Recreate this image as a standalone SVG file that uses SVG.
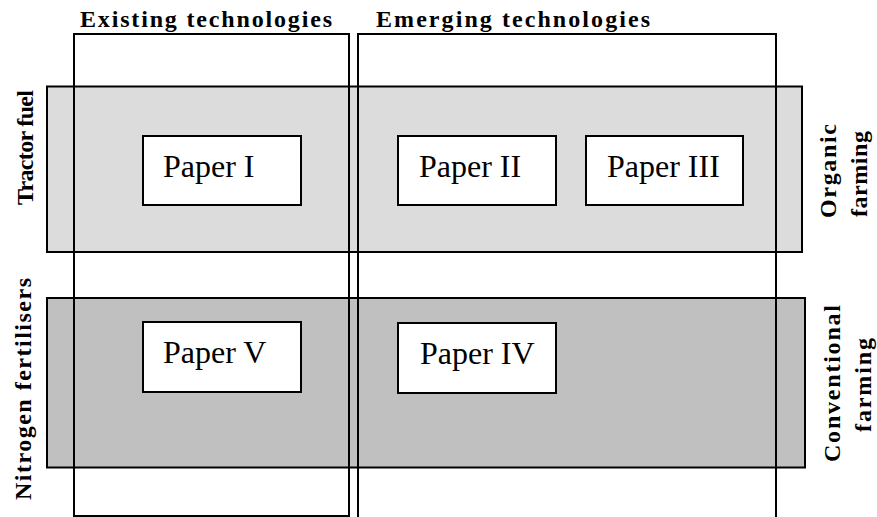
<svg xmlns="http://www.w3.org/2000/svg" width="877" height="517" viewBox="0 0 877 517">
  <style>
    .col { fill: none; stroke: #000; stroke-width: 2; }
    .band1 { fill: #dcdcdc; stroke: #000; stroke-width: 2; }
    .band2 { fill: #c0c0c0; stroke: #000; stroke-width: 2; }
    .box { fill: #fff; stroke: #000; stroke-width: 2; }
  </style>
  <rect width="877" height="517" fill="#fff"/>

  <g id="band-tractor-fuel">
    <rect class="band1" x="47" y="86.5" width="755" height="165.5"/>
  </g>
  <g id="band-nitrogen-fertilisers">
    <rect class="band2" x="47" y="298" width="758" height="169.5"/>
  </g>

  <g id="col-existing">
    <rect class="col" x="74" y="34" width="275" height="482"/>
    <text font-family="'Liberation Serif', 'DejaVu Serif', serif" font-weight="bold" font-size="24" x="80" y="27" textLength="252" lengthAdjust="spacing">Existing technologies</text>
  </g>
  <g id="col-emerging">
    <rect class="col" x="358" y="34" width="418" height="500"/>
    <text font-family="'Liberation Serif', 'DejaVu Serif', serif" font-weight="bold" font-size="24" x="376" y="27" textLength="274" lengthAdjust="spacing">Emerging technologies</text>
  </g>

  <g id="label-tractor-fuel">
    <text font-family="'Liberation Serif', 'DejaVu Serif', serif" font-weight="bold" font-size="24" transform="translate(33,147.5) rotate(-90)" text-anchor="middle" textLength="115" lengthAdjust="spacing">Tractor fuel</text>
  </g>
  <g id="label-nitrogen-fertilisers">
    <text font-family="'Liberation Serif', 'DejaVu Serif', serif" font-weight="bold" font-size="24" transform="translate(31,389) rotate(-90)" text-anchor="middle" textLength="222" lengthAdjust="spacing">Nitrogen fertilisers</text>
  </g>
  <g id="label-organic-farming">
    <text font-family="'Liberation Serif', 'DejaVu Serif', serif" font-weight="bold" font-size="24" transform="translate(836,171) rotate(-90)" text-anchor="middle" textLength="94" lengthAdjust="spacing">Organic</text>
    <text font-family="'Liberation Serif', 'DejaVu Serif', serif" font-weight="bold" font-size="24" transform="translate(867,174) rotate(-90)" text-anchor="middle" textLength="86" lengthAdjust="spacing">farming</text>
  </g>
  <g id="label-conventional-farming">
    <text font-family="'Liberation Serif', 'DejaVu Serif', serif" font-weight="bold" font-size="24" transform="translate(840,383.5) rotate(-90)" text-anchor="middle" textLength="157" lengthAdjust="spacing">Conventional</text>
    <text font-family="'Liberation Serif', 'DejaVu Serif', serif" font-weight="bold" font-size="24" transform="translate(871,385) rotate(-90)" text-anchor="middle" textLength="94" lengthAdjust="spacing">farming</text>
  </g>

  <g id="paper-1">
    <rect class="box" x="143" y="136" width="158" height="69"/>
    <text font-family="'Liberation Serif', 'DejaVu Serif', serif" font-size="32" x="163" y="177">Paper I</text>
  </g>
  <g id="paper-2">
    <rect class="box" x="398" y="136" width="158" height="69"/>
    <text font-family="'Liberation Serif', 'DejaVu Serif', serif" font-size="32" x="419" y="177">Paper II</text>
  </g>
  <g id="paper-3">
    <rect class="box" x="586" y="136" width="157" height="69"/>
    <text font-family="'Liberation Serif', 'DejaVu Serif', serif" font-size="32" x="607" y="177">Paper III</text>
  </g>
  <g id="paper-5">
    <rect class="box" x="143" y="322" width="158" height="70"/>
    <text font-family="'Liberation Serif', 'DejaVu Serif', serif" font-size="32" x="163" y="363">Paper V</text>
  </g>
  <g id="paper-4">
    <rect class="box" x="398" y="323" width="158" height="70"/>
    <text font-family="'Liberation Serif', 'DejaVu Serif', serif" font-size="32" x="420" y="364">Paper IV</text>
  </g>
</svg>
